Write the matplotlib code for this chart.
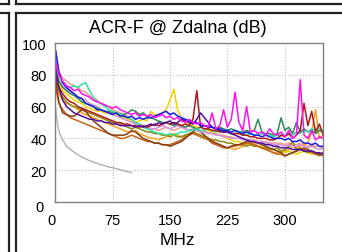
import matplotlib
matplotlib.use("Agg")
import matplotlib.pyplot as plt
import matplotlib.transforms as mtransforms
from matplotlib.lines import Line2D

plt.rcParams["font.family"] = ["Liberation Sans", "DejaVu Sans"]

# frequency grid (MHz)
freq = [1, 2.5] + list(range(5, 351, 5))

# ACR-F per pair combination (dB)
blue = [95, 90, 82, 75, 72, 70, 68, 66, 65, 62,
        61, 60, 58, 58, 57, 56, 55, 56, 54, 54,
        53, 54, 52, 53, 52, 53, 53, 54, 55, 56,
        57, 55, 56, 54, 53, 52, 51, 50, 50, 48,
        48, 47, 47, 46, 46, 45, 45, 44, 45, 44,
        43, 44, 43, 42, 42, 41, 42, 41, 40, 40,
        40, 39, 40, 38, 38, 39, 37, 37, 36, 37,
        35, 35]
indigo = [83, 78, 72, 64, 60, 58, 56, 55, 54, 53,
          52, 52, 51, 51, 50, 50, 49, 49, 48, 48,
          48, 48, 47, 48, 47, 48, 49, 48, 50, 49,
          50, 51, 49, 50, 52, 51, 50, 49, 52, 56,
          53, 50, 47, 46, 45, 44, 44, 43, 42, 41,
          40, 39, 38, 38, 37, 37, 36, 36, 35, 35,
          34, 34, 34, 33, 33, 33, 32, 32, 32, 31,
          31, 30]
magenta = [88, 85, 80, 76, 73, 72, 70, 71, 68, 67,
           66, 64, 63, 62, 61, 60, 59, 60, 58, 57,
           56, 55, 56, 54, 55, 54, 55, 53, 54, 55,
           53, 54, 52, 53, 51, 50, 52, 50, 49, 50,
           48, 47, 56, 46, 48, 58, 47, 52, 69, 50,
           45, 60, 44, 45, 43, 44, 42, 46, 43, 42,
           44, 41, 45, 40, 42, 77, 42, 40, 45, 39,
           41, 40]
mint = [90, 86, 80, 75, 73, 72, 73, 72, 74, 75,
        70, 66, 63, 62, 60, 58, 57, 56, 55, 54,
        53, 52, 50, 49, 47, 46, 45, 44, 43, 43,
        42, 43, 42, 43, 44, 44, 45, 45, 46, 45,
        45, 46, 45, 44, 45, 44, 44, 43, 43, 44,
        43, 42, 43, 42, 42, 43, 42, 42, 41, 42,
        42, 42, 43, 42, 44, 43, 45, 44, 46, 45,
        46, 45]
seagreen = [85, 80, 76, 72, 70, 68, 67, 65, 63, 62,
            61, 60, 59, 58, 57, 57, 56, 56, 55, 55,
            56, 58, 57, 55, 56, 54, 53, 52, 51, 50,
            50, 49, 48, 49, 48, 47, 48, 47, 46, 47,
            48, 48, 47, 46, 47, 46, 45, 46, 45, 44,
            44, 45, 44, 45, 52, 44, 43, 43, 42, 43,
            53, 45, 47, 43, 50, 44, 46, 44, 45, 43,
            45, 44]
darkred = [80, 76, 72, 68, 65, 63, 62, 60, 59, 58,
           57, 56, 55, 54, 53, 52, 51, 50, 50, 49,
           49, 48, 48, 47, 48, 47, 48, 49, 48, 49,
           50, 49, 50, 49, 48, 49, 48, 52, 70, 47,
           46, 46, 45, 45, 44, 44, 44, 43, 43, 43,
           42, 42, 41, 41, 40, 40, 40, 39, 39, 40,
           42, 41, 43, 40, 42, 45, 62, 48, 57, 44,
           49, 42]
gold = [82, 78, 74, 70, 68, 66, 64, 63, 62, 60,
        59, 58, 57, 57, 56, 56, 57, 55, 54, 53,
        52, 51, 50, 51, 52, 51, 57, 55, 54, 56,
        58, 64, 71, 58, 52, 50, 49, 48, 47, 47,
        46, 45, 44, 43, 42, 41, 40, 39, 38, 38,
        37, 37, 36, 36, 35, 35, 34, 33, 33, 32,
        32, 31, 32, 31, 30, 31, 32, 31, 30, 31,
        30, 30]
salmon = [92, 88, 82, 78, 76, 74, 73, 72, 70, 69,
          67, 65, 64, 62, 61, 60, 58, 57, 56, 55,
          54, 52, 50, 49, 48, 47, 46, 46, 45, 46,
          47, 46, 45, 46, 47, 46, 45, 46, 45, 44,
          44, 44, 43, 43, 42, 42, 41, 41, 40, 40,
          40, 39, 39, 39, 38, 38, 38, 37, 37, 37,
          37, 36, 37, 36, 36, 37, 36, 35, 36, 35,
          35, 34]
brown = [78, 70, 63, 56, 55, 54, 54, 56, 58, 57,
         54, 51, 49, 47, 45, 43, 42, 42, 42, 42,
         43, 45, 44, 42, 40, 39, 38, 37, 37, 36,
         36, 35, 36, 37, 38, 40, 42, 44, 46, 44,
         42, 40, 38, 37, 36, 35, 34, 35, 36, 36,
         37, 38, 38, 38, 37, 36, 35, 34, 33, 32,
         31, 29, 30, 31, 32, 33, 34, 33, 32, 31,
         30, 31]
orange = [76, 72, 68, 64, 62, 61, 60, 58, 56, 55,
          54, 53, 52, 51, 50, 49, 48, 47, 46, 45,
          44, 44, 45, 43, 42, 41, 40, 40, 39, 40,
          41, 42, 43, 42, 41, 42, 43, 44, 43, 42,
          41, 40, 39, 37, 36, 35, 34, 34, 33, 34,
          35, 36, 38, 37, 35, 34, 33, 32, 31, 31,
          31, 32, 33, 35, 34, 35, 36, 37, 44, 58,
          40, 42]
olive = [80, 75, 70, 66, 63, 61, 60, 59, 58, 57,
         56, 55, 54, 53, 52, 51, 50, 49, 49, 48,
         47, 46, 47, 46, 45, 44, 44, 43, 43, 42,
         42, 41, 42, 41, 41, 42, 43, 44, 43, 42,
         41, 40, 39, 39, 38, 38, 37, 37, 36, 36,
         36, 35, 36, 35, 35, 34, 34, 33, 33, 34,
         32, 33, 35, 38, 33, 34, 32, 31, 32, 30,
         29, 30]
orchid = [86, 82, 77, 73, 71, 69, 68, 66, 65, 64,
          62, 61, 60, 58, 57, 56, 55, 54, 53, 52,
          51, 50, 49, 48, 47, 47, 46, 46, 47, 48,
          47, 46, 47, 48, 47, 46, 45, 46, 45, 44,
          44, 43, 43, 42, 42, 41, 41, 40, 40, 40,
          39, 39, 39, 38, 38, 38, 37, 37, 36, 36,
          36, 35, 36, 35, 35, 36, 35, 34, 35, 34,
          33, 34]
chocolate = [74, 68, 62, 58, 55, 53, 52, 51, 50, 49,
             48, 47, 46, 45, 44, 43, 42, 41, 40, 40,
             41, 42, 41, 40, 39, 38, 38, 37, 37, 36,
             36, 36, 37, 38, 39, 41, 42, 43, 42, 41,
             40, 39, 37, 36, 35, 34, 34, 35, 35, 36,
             36, 37, 37, 36, 35, 34, 33, 32, 31, 30,
             30, 29, 30, 31, 32, 33, 33, 32, 31, 30,
             30, 29]

# limit line
limit_freq = [1, 2, 4, 6, 10, 15, 20, 30, 40, 50, 60, 70, 80, 90, 100]
limit_val = [58, 53, 47, 43, 39, 35, 33, 29.5, 27, 25, 23.5, 22, 21, 19.5, 18.5]

series = [
    (gold, "#f2d000"), (salmon, "#f0a08a"), (orange, "#f5a020"),
    (olive, "#8c8a10"), (chocolate, "#c8621e"), (brown, "#8b3e12"),
    (orchid, "#d890e0"), (seagreen, "#2e8b57"), (mint, "#30e0a0"),
    (darkred, "#b01818"), (indigo, "#5010a0"), (blue, "#1a1ae6"),
    (magenta, "#ff10f0"),
]

fig = plt.figure(figsize=(3.42, 2.53), dpi=100)
ax = fig.add_axes([0.161, 0.198, 0.784, 0.628])

ax.plot(limit_freq, limit_val, color="#b0b0b0", linewidth=1.0)
for vals, col in series:
    ax.plot(freq, vals, color=col, linewidth=1.1)

ax.set_xlim(0, 350)
ax.set_ylim(0, 100)
ax.set_xticks([0, 75, 150, 225, 300])
ax.set_yticks([0, 20, 40, 60, 80, 100])
ax.tick_params(length=0, labelsize=10.5)
ax.tick_params(axis="x", pad=8)
ax.tick_params(axis="y", pad=6)
ax.grid(True, color="#c0c0c0", linestyle=":", linewidth=0.8)
for s in ax.spines.values():
    s.set_color("#808080")
    s.set_linewidth(1)

# the two "0" labels sit a little off in the original
fig.canvas.draw()
ax.get_xticklabels()[0].set_transform(
    ax.get_xticklabels()[0].get_transform()
    + mtransforms.ScaledTranslation(-4 / 100, 0, fig.dpi_scale_trans))
ax.get_yticklabels()[0].set_transform(
    ax.get_yticklabels()[0].get_transform()
    + mtransforms.ScaledTranslation(-3 / 100, -4 / 100, fig.dpi_scale_trans))

fig.text(0.52, 0.889, "ACR-F @ Zdalna (dB)", ha="center", va="center", fontsize=13)
fig.text(0.52, 0.051, "MHz", ha="center", va="center", fontsize=12.5)

# page table borders around the cell
W, H = 342, 253
def seg(x0, y0, x1, y1):
    fig.add_artist(Line2D([x0 / W, x1 / W], [1 - y0 / H, 1 - y1 / H],
                          transform=fig.transFigure, color="#222222", linewidth=1.6))

seg(0, 4.5, 8.5, 4.5)
seg(16, 4.5, W, 4.5)
seg(0, 13.5, 8.5, 13.5)
seg(16, 13.5, W, 13.5)
seg(8.5, 0, 8.5, 4.5)
seg(8.5, 13.5, 8.5, H)
seg(16, 0, 16, 4.5)
seg(16, 13.5, 16, H)

fig.savefig("out.png", dpi=100)
